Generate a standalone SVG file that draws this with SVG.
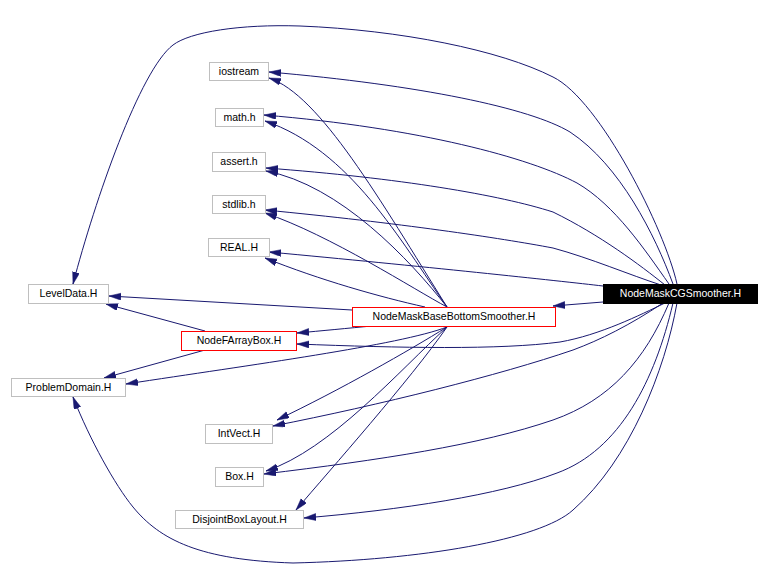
<svg xmlns="http://www.w3.org/2000/svg" width="770" height="581" viewBox="0 0 770 581">
<style>
.e{fill:none;stroke:#191970;stroke-width:1;marker-end:url(#ah)}
.n rect{fill:#fff;stroke:#bfbfbf;stroke-width:1}
.r rect{fill:#fff;stroke:#ff0000;stroke-width:1}
.b rect{fill:#000;stroke:#000;stroke-width:1}
text{font-family:"Liberation Sans",Arial,sans-serif;font-size:10.5px;text-anchor:middle;fill:#000}
.b text{fill:#fff}
</style>
<defs>
<marker id="ah" markerUnits="userSpaceOnUse" markerWidth="12" markerHeight="8" refX="12" refY="3.5" orient="auto">
<path d="M0,0 L12,3.5 L0,7 z" fill="#191970" stroke="#191970" stroke-width="0.5"/>
</marker>
</defs>
<rect width="770" height="581" fill="#fff"/>
<g id="connectors">
<path class="e" d="M677,284 C665,230 600,100 553,77 C500,50 400,30 300,26 C240,24 190,32 173,45 C140,70 95,200 73,284"/>
<path class="e" d="M673,284 C655,235 620,165 570,132 C530,108 420,85 269,72"/>
<path class="e" d="M669,284 C645,250 615,205 577,183 C530,158 420,128 264,115"/>
<path class="e" d="M665,285 C640,265 600,235 553,212 C500,195 400,178 266,168"/>
<path class="e" d="M661,285 C630,275 590,258 553,248 C500,238 400,223 265,210"/>
<path class="e" d="M603,286 C560,281 420,266 269,252"/>
<path class="e" d="M603,302 L553,306"/>
<path class="e" d="M665,303 C640,315 600,335 560,342 C500,350 400,348 297,344"/>
<path class="e" d="M663,303 C630,325 600,340 573,350 C500,375 380,405 273,426"/>
<path class="e" d="M669,303 C645,360 610,400 553,420 C480,445 380,460 264,474"/>
<path class="e" d="M673,303 C655,380 620,450 557,473 C500,495 400,510 304,518"/>
<path class="e" d="M677,303 C665,370 630,460 573,510 C540,540 420,560 293,563 C200,560 160,540 133,507 C115,485 90,440 73,397"/>
<path class="e" d="M447,307 C380,200 320,95 269,78"/>
<path class="e" d="M447,307 C400,240 350,150 265,121"/>
<path class="e" d="M447,307 C410,260 340,185 266,171"/>
<path class="e" d="M447,307 C415,290 330,235 265,213"/>
<path class="e" d="M425,307 C380,297 320,280 265,258"/>
<path class="e" d="M352,310 L109,296"/>
<path class="e" d="M372,326 C350,328 320,331 297,333"/>
<path class="e" d="M447,327 C400,345 250,365 126,384"/>
<path class="e" d="M447,327 C410,350 340,390 277,420"/>
<path class="e" d="M447,327 C400,370 330,450 266,471"/>
<path class="e" d="M447,327 C410,380 330,470 296,510"/>
<path class="e" d="M205,331 L106,304"/>
<path class="e" d="M205,350 L104,378"/>
</g>
<g id="iostream" class="n"><rect x="209.5" y="62.5" width="59" height="18"/><text x="239" y="75">iostream</text></g>
<g id="math_h" class="n"><rect x="215.5" y="108.5" width="48" height="18"/><text x="239.5" y="121">math.h</text></g>
<g id="assert_h" class="n"><rect x="212.5" y="152.5" width="53" height="19"/><text x="239" y="165">assert.h</text></g>
<g id="stdlib_h" class="n"><rect x="212.5" y="195.5" width="53" height="18"/><text x="239" y="208">stdlib.h</text></g>
<g id="REAL_H" class="n"><rect x="208.5" y="238.5" width="61" height="18"/><text x="239" y="251">REAL.H</text></g>
<g id="LevelData_H" class="n"><rect x="28.5" y="284.5" width="80" height="19"/><text x="68.5" y="297">LevelData.H</text></g>
<g id="NodeMaskCGSmoother_H" class="b"><rect x="603.5" y="284.5" width="154" height="19"/><text x="680.5" y="297">NodeMaskCGSmoother.H</text></g>
<g id="NodeMaskBaseBottomSmoother_H" class="r"><rect x="352.5" y="307.5" width="203" height="19"/><text x="454" y="320">NodeMaskBaseBottomSmoother.H</text></g>
<g id="NodeFArrayBox_H" class="r"><rect x="181.5" y="331.5" width="115" height="19"/><text x="239" y="344">NodeFArrayBox.H</text></g>
<g id="ProblemDomain_H" class="n"><rect x="11.5" y="378.5" width="114" height="18"/><text x="68.5" y="391">ProblemDomain.H</text></g>
<g id="IntVect_H" class="n"><rect x="205.5" y="424.5" width="67" height="19"/><text x="239" y="437">IntVect.H</text></g>
<g id="Box_H" class="n"><rect x="215.5" y="467.5" width="48" height="19"/><text x="239.5" y="480">Box.H</text></g>
<g id="DisjointBoxLayout_H" class="n"><rect x="175.5" y="510.5" width="128" height="18"/><text x="239.5" y="523">DisjointBoxLayout.H</text></g>
</svg>
